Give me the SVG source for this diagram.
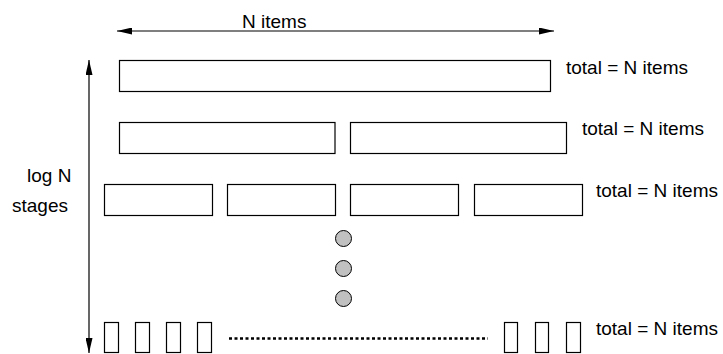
<svg xmlns="http://www.w3.org/2000/svg" width="723" height="354" viewBox="0 0 723 354">
<defs>
<style>
.box{fill:#fff;stroke:#000;stroke-width:1.2}
.dot{fill:#c0c0c0;stroke:#000;stroke-width:1}
.ln{stroke:#000;stroke-width:1.2;fill:none}
text{font-family:"Liberation Sans",Arial,sans-serif;font-size:19px;fill:#000}
</style>
<marker id="ah" viewBox="0 0 15 7" refX="15" refY="3.5" markerWidth="15" markerHeight="7" markerUnits="userSpaceOnUse" orient="auto-start-reverse">
<path d="M0,0 L15,3.5 L0,7 Z" fill="#000"/>
</marker>
</defs>
<rect width="723" height="354" fill="#fff"/>
<g id="connectors">
<line class="ln" x1="117" y1="31" x2="554" y2="31" marker-start="url(#ah)" marker-end="url(#ah)"/>
<line class="ln" x1="89" y1="60" x2="89" y2="353" marker-start="url(#ah)" marker-end="url(#ah)"/>
<line x1="229" y1="338.5" x2="488" y2="338.5" stroke="#000" stroke-width="2.5" stroke-dasharray="3,2.5"/>
</g>
<g id="labels">
<text x="242" y="28">N items</text>
<text x="27" y="182">log N</text>
<text x="12" y="212">stages</text>
<text x="566" y="74">total = N items</text>
<text x="582" y="135">total = N items</text>
<text x="596" y="197">total = N items</text>
<text x="596" y="335">total = N items</text>
</g>
<g id="stage1">
<rect class="box" x="119.5" y="60.5" width="431" height="31"/>
</g>
<g id="stage2">
<rect class="box" x="119.5" y="122.5" width="215.5" height="31"/>
<rect class="box" x="350.5" y="122.5" width="216" height="31"/>
</g>
<g id="stage3">
<rect class="box" x="104.5" y="184.5" width="108" height="31"/>
<rect class="box" x="227.5" y="184.5" width="108" height="31"/>
<rect class="box" x="350.5" y="184.5" width="108" height="31"/>
<rect class="box" x="474.5" y="184.5" width="108" height="31"/>
</g>
<g id="ellipsis">
<circle class="dot" cx="343.5" cy="238.5" r="8"/>
<circle class="dot" cx="343.5" cy="268.5" r="8"/>
<circle class="dot" cx="343.5" cy="298.5" r="8"/>
</g>
<g id="stageLast">
<rect class="box" x="104.5" y="322.5" width="14" height="30"/>
<rect class="box" x="135.5" y="322.5" width="14" height="30"/>
<rect class="box" x="166.5" y="322.5" width="14" height="30"/>
<rect class="box" x="197.5" y="322.5" width="14" height="30"/>
<rect class="box" x="504.5" y="322.5" width="13" height="30"/>
<rect class="box" x="535.5" y="322.5" width="13" height="30"/>
<rect class="box" x="566.5" y="322.5" width="14" height="30"/>
</g>
</svg>
